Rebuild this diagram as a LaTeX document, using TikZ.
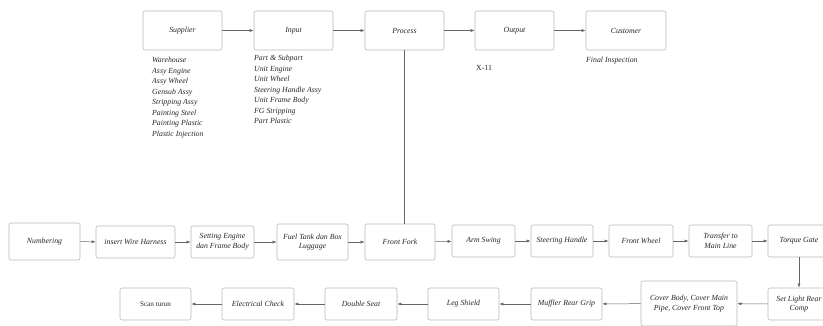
\documentclass[tikz,border=0pt]{standalone}
\usepackage{fontspec}
\setmainfont{Liberation Serif}
\usetikzlibrary{arrows.meta}

\begin{document}
\begin{tikzpicture}[x=1pt,y=-1pt,
    box/.style={draw=gray!55, line width=0.6pt, rounded corners=2pt, align=center, inner sep=1pt,
      text=black!85, font=\fontsize{7.8}{9.5}\selectfont\itshape},
    list/.style={anchor=north west, align=left, inner sep=0pt, text=black!85,
      font=\fontsize{7.8}{10.5}\selectfont\itshape},
    flow/.style={draw=gray!80!black, line width=0.5pt, -{Latex[length=4pt,width=3pt]}}]
  \useasboundingbox (0,0) rectangle (823,325);
  \clip (0,0) rectangle (823,325);
  % top row
  \node[box, minimum width=79, minimum height=39] (Sup) at (182.5,30.5) {Supplier};
  \node[box, minimum width=79, minimum height=39] (Inp) at (293.5,30.5) {Input};
  \node[box, minimum width=79, minimum height=39] (Pro) at (404.5,30.5) {Process};
  \node[box, minimum width=79, minimum height=39] (Out) at (514.5,30.5) {Output};
  \node[box, minimum width=80, minimum height=39] (Cus) at (626,30.5) {Customer};
  \draw[flow] (Sup) -- (Inp);
  \draw[flow] (Inp) -- (Pro);
  \draw[flow] (Pro) -- (Out);
  \draw[flow] (Out) -- (Cus);
  % lists under the top row
  \node[list] (SupList) at (152,57) {Warehouse\\Assy Engine\\Assy Wheel\\Gensub Assy\\Stripping Assy\\Painting Steel\\Painting Plastic\\Plastic Injection};
  \node[list] (InpList) at (254,55) {Part \& Subpart\\Unit Engine\\Unit Wheel\\Steering Handle Assy\\Unit Frame Body\\FG Stripping\\Part Plastic};
  \node[list, font=\fontsize{7.8}{10.5}\selectfont] (OutList) at (476,65) {X-11};
  \node[list] (CusList) at (586,57) {Final Inspection};
  % middle row
  \node[box, minimum width=71, minimum height=37] (Num) at (44.5,241.5) {Numbering};
  \node[box, minimum width=79, minimum height=32] (Wire) at (135.5,242) {insert Wire Harness};
  \node[box, minimum width=63, minimum height=32] (Eng) at (222.5,242) {Setting Engine\\dan Frame Body};
  \node[box, minimum width=71, minimum height=36] (Fuel) at (312.5,242) {Fuel Tank dan Box\\Luggage};
  \node[box, minimum width=70, minimum height=36] (Fork) at (400,242) {Front Fork};
  \node[box, minimum width=63, minimum height=32] (Arm) at (483.5,241) {Arm Swing};
  \node[box, minimum width=62, minimum height=32] (Steer) at (562,241) {Steering Handle};
  \node[box, minimum width=64, minimum height=32] (Wheel) at (641,241) {Front Wheel};
  \node[box, minimum width=63, minimum height=32] (Trans) at (720.5,241) {Transfer to\\Main Line};
  \node[box, minimum width=62, minimum height=32] (Torq) at (799,241) {Torque Gate};
  \draw[draw=gray!80!black, line width=0.5pt] (Pro.south) -- (Pro.south |- Fork.north);
  \draw[flow] (Num) -- (Wire);
  \draw[flow] (Wire) -- (Eng);
  \draw[flow] (Eng) -- (Fuel);
  \draw[flow] (Fuel) -- (Fork);
  \draw[flow] (Fork) -- (Arm);
  \draw[flow] (Arm) -- (Steer);
  \draw[flow] (Steer) -- (Wheel);
  \draw[flow] (Wheel) -- (Trans);
  \draw[flow] (Trans) -- (Torq);
  % bottom row
  \node[box, minimum width=62, minimum height=32] (Light) at (799,304) {Set Light Rear\\Comp};
  \node[box, minimum width=96, minimum height=45] (Cover) at (689,303.5) {Cover Body, Cover Main\\Pipe, Cover Front Top};
  \node[box, minimum width=71, minimum height=32] (Muff) at (566.5,304) {Muffler Rear Grip};
  \node[box, minimum width=71, minimum height=32] (Leg) at (463.5,304) {Leg Shield};
  \node[box, minimum width=72, minimum height=32] (Seat) at (361,304) {Double Seat};
  \node[box, minimum width=72, minimum height=32] (Elec) at (258,304) {Electrical Check};
  \node[box, minimum width=71, minimum height=32, font=\fontsize{7.2}{9}\selectfont] (Scan) at (155.5,304) {Scan turun};
  \draw[flow] (Torq) -- (Light);
  \draw[flow] (Light) -- (Cover);
  \draw[flow] (Cover) -- (Muff);
  \draw[flow] (Muff) -- (Leg);
  \draw[flow] (Leg) -- (Seat);
  \draw[flow] (Seat) -- (Elec);
  \draw[flow] (Elec) -- (Scan);
\end{tikzpicture}
\end{document}
